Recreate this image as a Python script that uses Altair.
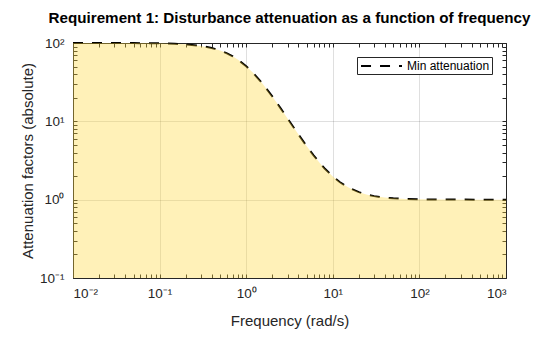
import altair as alt
import pandas as pd

# ---- data ----
freq = [0.01, 0.02, 0.05, 0.1, 0.15, 0.2, 0.3, 0.4, 0.5, 0.6, 0.7, 0.8, 1.0, 1.2,
        1.5, 2, 2.5, 3, 4, 5, 6, 7, 8, 10, 12, 15, 20, 25, 30, 40, 50, 70, 100,
        200, 500, 1000]
atten = [99.99, 99.96, 99.75, 99.02, 97.82, 96.19, 91.83, 86.34, 80.2, 73.79,
         67.44, 61.37, 50.5, 41.57, 31.46, 20.8, 14.66, 10.9, 6.82, 4.81, 3.68,
         2.98, 2.52, 1.98, 1.68, 1.44, 1.247, 1.158, 1.110, 1.062, 1.040, 1.020,
         1.010, 1.0025, 1.0004, 1.0001]
series_name = ["Min attenuation"]
x_decades = [0.01, 0.1, 1, 10, 100, 1000]
y_decades = [0.1, 1, 10, 100]
x_ticks = [m * d for d in x_decades[:-1] for m in range(1, 10)] + [1000]
y_ticks = [m * d for d in y_decades[:-1] for m in range(1, 10)] + [100]

title_text = "Requirement 1: Disturbance attenuation as a function of frequency"
x_title = "Frequency (rad/s)"
y_title = "Attenuation factors (absolute)"

df = pd.DataFrame({"freq": freq, "atten": atten, "series": series_name[0]})

FONT = "Liberation Sans"
DARK = "#262626"
label_expr = "'10' + ['\u207b\u00b2','\u207b\u00b9','\u2070','\u00b9','\u00b2','\u00b3'][round(log(datum.value)/LN10)+2]"

xscale = alt.Scale(type="log", domain=[0.01, 1000], nice=False)
yscale = alt.Scale(type="log", domain=[0.1, 100], nice=False)

TICK = 4


def tick_axis(orient, values):
    return alt.Axis(orient=orient, values=values, labels=False, grid=False,
                    domain=False, ticks=True, tickSize=TICK, offset=-TICK,
                    tickColor=DARK, tickWidth=1, title=None, zindex=0)


base = alt.Chart(df)

line = base.mark_line(strokeWidth=2, strokeDash=[10, 9]).encode(
    x=alt.X("freq:Q", scale=xscale,
            axis=alt.Axis(orient="bottom", values=x_decades, labelExpr=label_expr,
                          grid=True, gridColor=DARK, gridOpacity=0.15, ticks=False,
                          domain=False, labelPadding=8, labelFontSize=13.5,
                          labelColor=DARK, labelFont=FONT, title=x_title,
                          titleFont=FONT, titleFontSize=15, titleFontWeight="normal",
                          titleColor=DARK, titleY=42, titleBaseline="middle",
                          zindex=0)),
    y=alt.Y("atten:Q", scale=yscale,
            axis=alt.Axis(orient="left", values=y_decades, labelExpr=label_expr,
                          grid=True, gridColor=DARK, gridOpacity=0.15, ticks=False,
                          domain=False, labelPadding=9, labelFontSize=13.5,
                          labelColor=DARK, labelFont=FONT, labelBaseline="middle",
                          title=y_title, titleFont=FONT, titleFontSize=15,
                          titleFontWeight="normal", titleColor=DARK,
                          titlePadding=4, zindex=0)),
    color=alt.Color("series:N",
                    scale=alt.Scale(domain=series_name, range=["black"]),
                    legend=alt.Legend(title=None, orient="none", legendX=284,
                                      legendY=14, fillColor="white",
                                      strokeColor=DARK, padding=2, cornerRadius=0,
                                      symbolType="M-0.83,0H6", symbolSize=144,
                                      symbolStrokeWidth=2, symbolDash=[10, 9],
                                      symbolStrokeColor="black", labelFont=FONT,
                                      labelFontSize=12, labelColor="black",
                                      labelOffset=34)),
)

area = base.mark_area(color="#FFD83A", opacity=0.36).encode(
    x=alt.X("freq:Q", scale=xscale, axis=tick_axis("bottom", x_ticks)),
    y=alt.Y("atten:Q", scale=yscale, axis=tick_axis("left", y_ticks)),
    y2=alt.datum(0.1),
)

ghost = base.mark_line(opacity=0).encode(
    x=alt.X("freq:Q", scale=xscale, axis=tick_axis("top", x_ticks)),
    y=alt.Y("atten:Q", scale=yscale, axis=tick_axis("right", y_ticks)),
)

chart = (
    alt.layer(line, area, ghost)
    .resolve_scale(x="shared", y="shared")
    .resolve_axis(x="independent", y="independent")
    .properties(
        width=433, height=235,
        title=alt.TitleParams(title_text, font=FONT, fontSize=15.2,
                              fontWeight="bold", color="black", anchor="middle",
                              frame="group", offset=19, dy=21, baseline="alphabetic"),
        autosize=alt.AutoSizeParams(type="none"),
        padding={"left": 73, "top": 43, "right": 54, "bottom": 59},
    )
    .configure_view(stroke=DARK, strokeWidth=1)
)

chart.save("out.html", embed_options={"renderer": "svg", "actions": False})
